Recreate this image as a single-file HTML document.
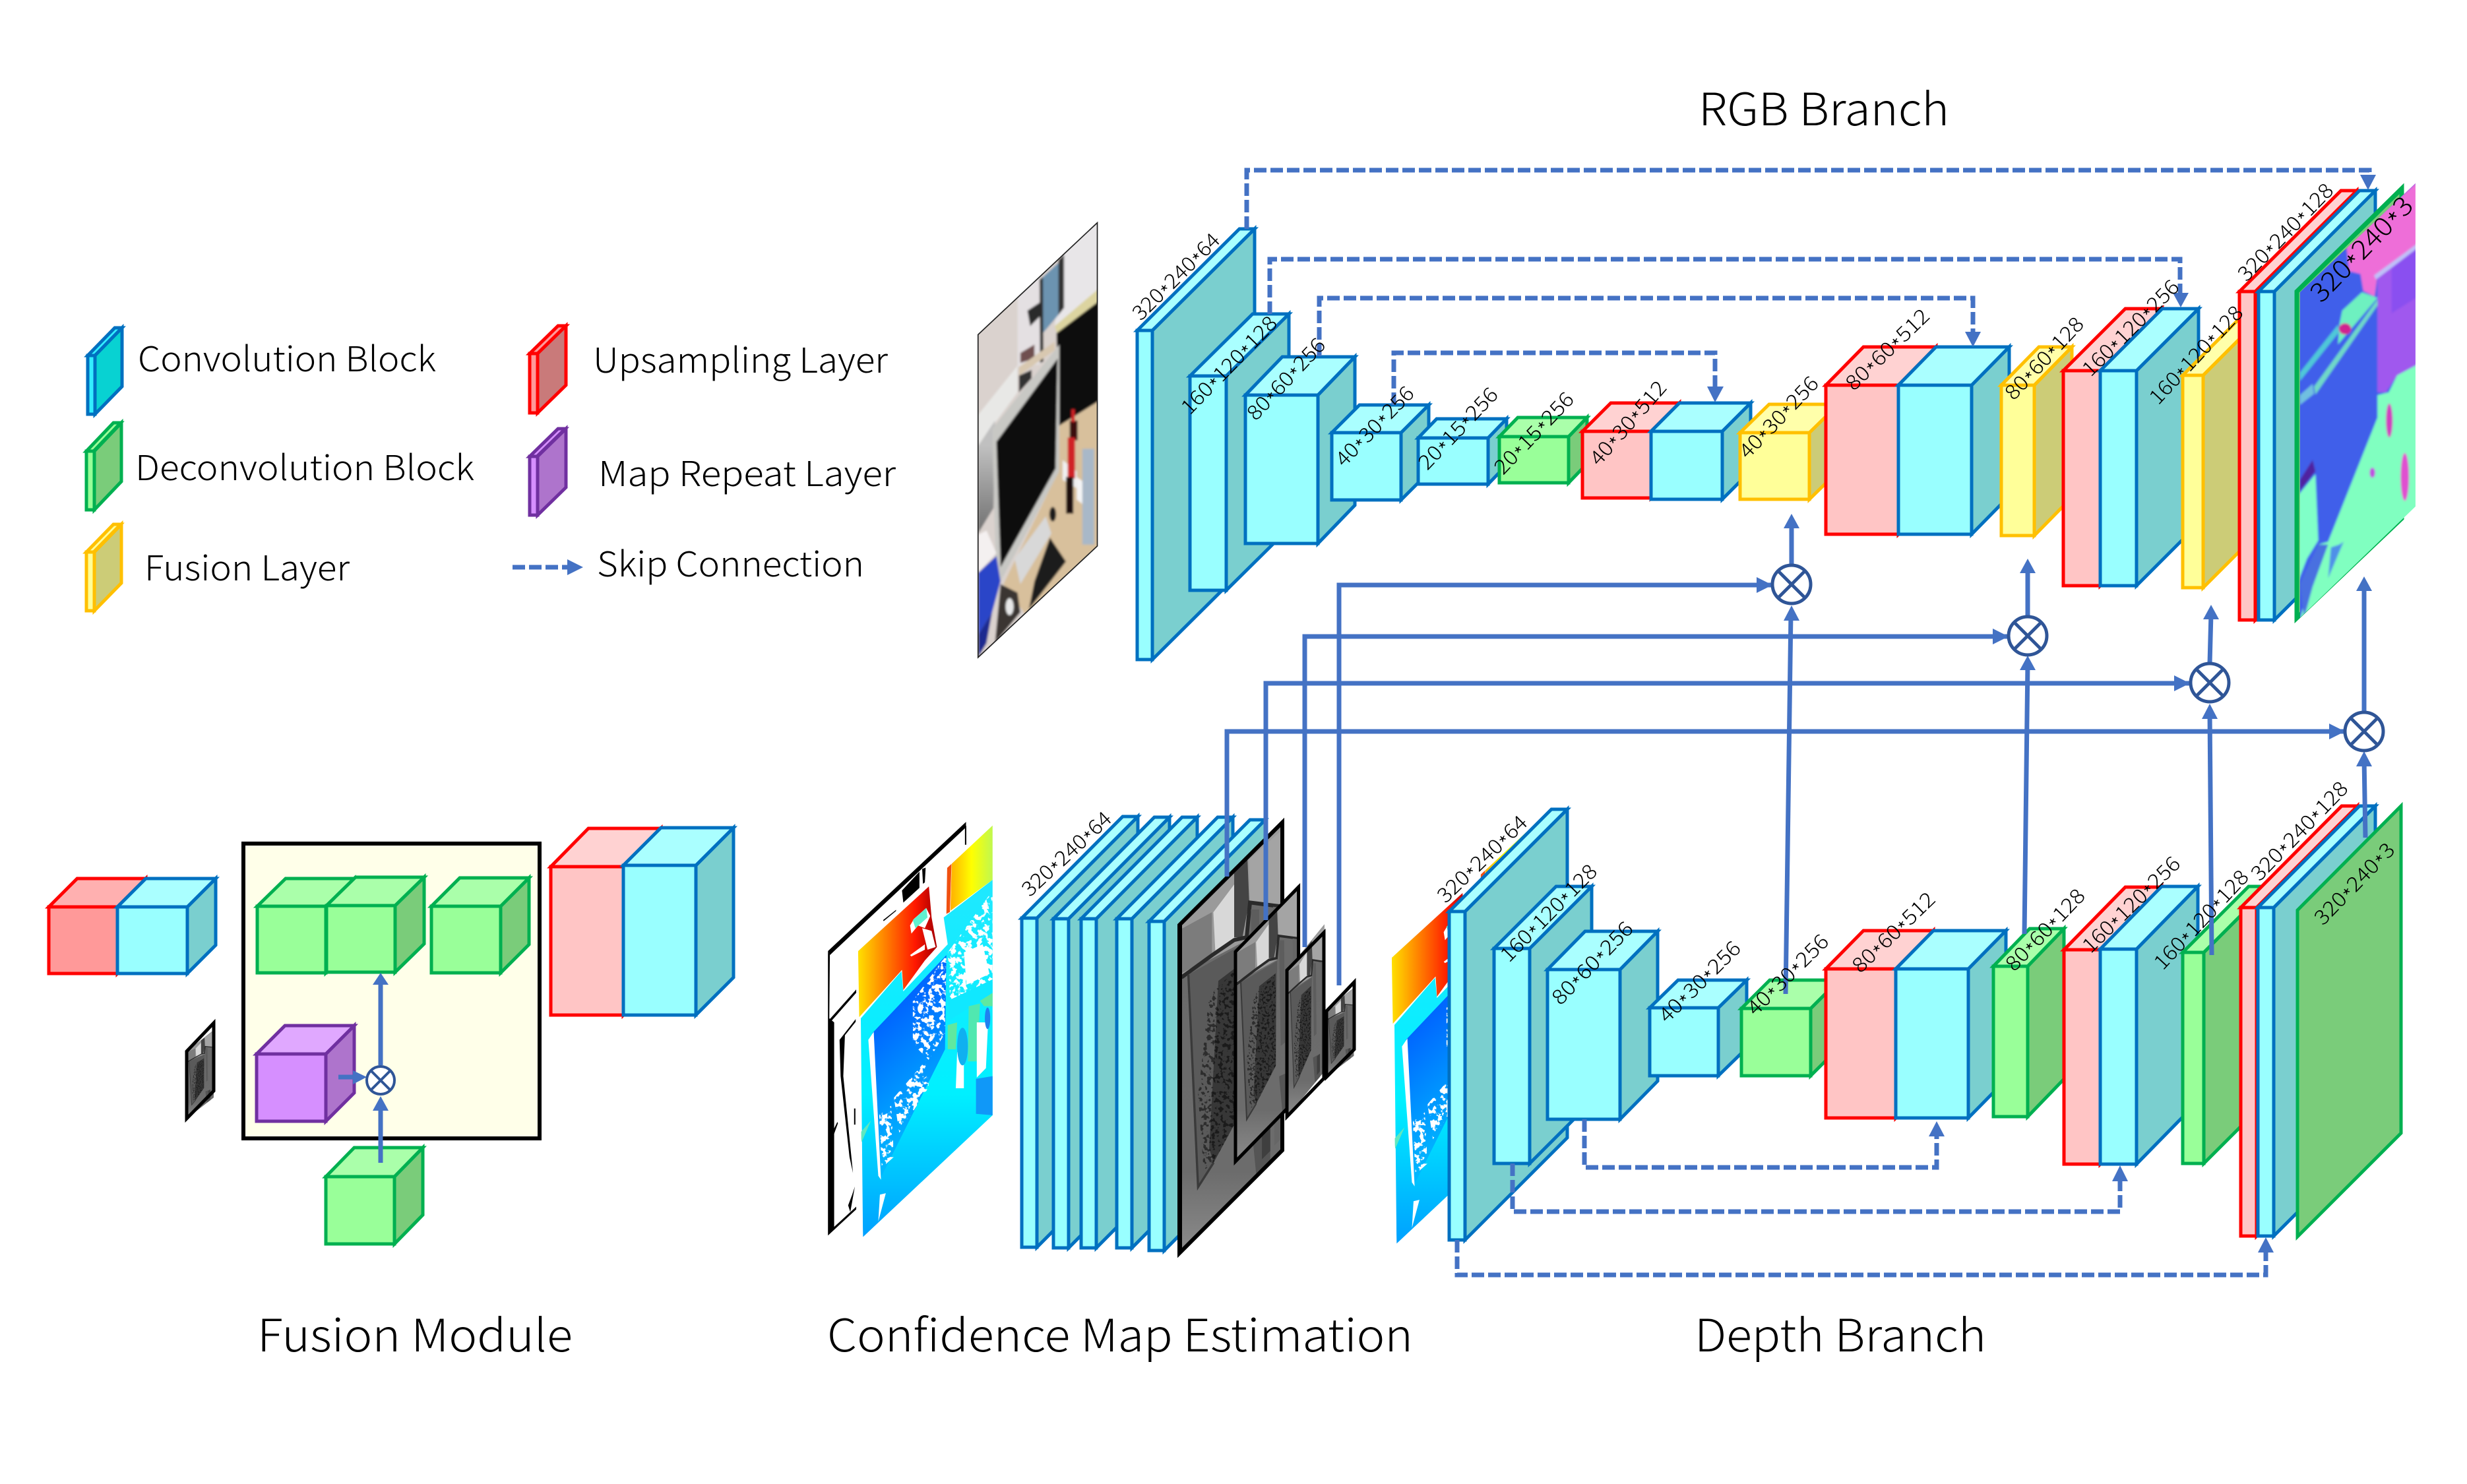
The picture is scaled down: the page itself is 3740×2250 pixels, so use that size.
<!DOCTYPE html>
<html><head><meta charset="utf-8"><style>
html,body{margin:0;padding:0;background:#fff}
svg{display:block}
text{font-family:"Noto Sans CJK SC","Liberation Sans",sans-serif;font-weight:300;fill:#000}
.l{font-size:31px;dominant-baseline:central}
.h{font-size:68px}
.k{font-size:52px}
g.bl,g.rd,g.ye,g.gr,g.pu,g.rs,g.lb,g.lr,g.lg,g.lp,g.ly{stroke-width:5;stroke-linejoin:miter}
.bl{stroke:#0070C0}.bl .t{fill:#AAFFFF}.bl .s{fill:#7ACFCF}.bl .f{fill:#99FFFF}
.rd{stroke:#FF0000}.rd .t{fill:#FFD2D2}.rd .s{fill:#FFC5C5}.rd .f{fill:#FFC5C5}
.rs{stroke:#FF0000}.rs .t{fill:#FFB0B0}.rs .s{fill:#FF9999}.rs .f{fill:#FF9999}
.ye{stroke:#FFC000}.ye .t{fill:#FFFFAA}.ye .s{fill:#CCCC77}.ye .f{fill:#FFFF99}
.gr{stroke:#00B050}.gr .t{fill:#AAFFAA}.gr .s{fill:#7ACC7A}.gr .f{fill:#99FF99}
.pu{stroke:#7030A0}.pu .t{fill:#E0A8FF}.pu .s{fill:#AE74CC}.pu .f{fill:#D68FFF}
.lb{stroke:#0070C0}.lb .t,.lb .f{fill:#33EEFF}.lb .s{fill:#08D2D2}
.lr{stroke:#FF0000}.lr .t,.lr .f{fill:#FF9999}.lr .s{fill:#C97A7A}
.lg{stroke:#00B050}.lg .t,.lg .f{fill:#99FF99}.lg .s{fill:#7ACC7A}
.lp{stroke:#7030A0}.lp .t,.lp .f{fill:#D68FFF}.lp .s{fill:#AE74CC}
.ly{stroke:#FFC000}.ly .t,.ly .f{fill:#FFFF99}.ly .s{fill:#CCCC77}
.d{fill:none;stroke:#4472C4;stroke-width:7;stroke-dasharray:19 6}
.w{fill:none;stroke:#4472C4;stroke-width:7}
.a{fill:#4472C4}
.o{fill:#fff;stroke:#2F5597;stroke-width:5}
.x{stroke:#2F5597;stroke-width:5;fill:none}
</style></head><body>
<svg xmlns="http://www.w3.org/2000/svg" width="3740" height="2250" viewBox="0 0 3740 2250">
<defs>
<filter id="b3" x="-5%" y="-5%" width="110%" height="110%"><feGaussianBlur stdDeviation="4"/></filter>
<filter id="sp" x="0" y="0" width="1" height="1"><feTurbulence type="fractalNoise" baseFrequency=".05" numOctaves="3" seed="4"/><feColorMatrix type="matrix" values="0 0 0 0 1  0 0 0 0 1  0 0 0 0 1  0 0 0 14 -7"/></filter>
<filter id="spd" x="0" y="0" width="1" height="1"><feTurbulence type="fractalNoise" baseFrequency=".07" numOctaves="2" seed="9"/><feColorMatrix type="matrix" values="0 0 0 0 0  0 0 0 0 0  0 0 0 0 0  0 0 0 14 -7.4"/></filter>
<clipPath id="cpPhoto"><polygon points="100,415 523,18 523,1165 100,1560"/></clipPath>
<clipPath id="cpNorm"><polygon points="975,405 1385,18 1385,1165 975,1560"/></clipPath>
<clipPath id="cpDep"><polygon points="137,495 637,28 637,1105 155,1558"/></clipPath>
<clipPath id="cpS1"><polygon points="340,680 465,510 460,800 400,900 340,840"/></clipPath>
<clipPath id="cpS2"><polygon points="270,1040 390,900 400,1000 290,1170"/></clipPath>
<clipPath id="cpS3"><polygon points="470,500 637,270 637,610 480,700"/></clipPath>
<clipPath id="cpS4"><polygon points="215,1100 260,1070 270,1260 225,1300"/></clipPath>
<clipPath id="cpG"><polygon points="40,390 415,18 415,1200 40,1568"/></clipPath>
<clipPath id="cpGd"><polygon points="150,640 281,513 281,1029 166,1242 130,1270 110,1000"/></clipPath>
<linearGradient id="gRed" x1="137" x2="420" y1="0" y2="0" gradientUnits="userSpaceOnUse"><stop offset="0" stop-color="#FFE000"/><stop offset=".3" stop-color="#FF9000"/><stop offset=".75" stop-color="#FF1800"/><stop offset="1" stop-color="#B00000"/></linearGradient>
<linearGradient id="gYel" x1="480" x2="637" y1="0" y2="0" gradientUnits="userSpaceOnUse"><stop offset="0" stop-color="#FFB000"/><stop offset=".5" stop-color="#FFFF00"/><stop offset="1" stop-color="#C0F850"/></linearGradient>
<linearGradient id="gCy" x1="0" x2="0" y1="230" y2="1558" gradientUnits="userSpaceOnUse"><stop offset="0" stop-color="#20E8FF"/><stop offset=".6" stop-color="#00F0FF"/><stop offset="1" stop-color="#00A0FF"/></linearGradient>
<linearGradient id="gMon" x1="190" x2="460" y1="800" y2="1100" gradientUnits="userSpaceOnUse"><stop offset="0" stop-color="#0068FF"/><stop offset="1" stop-color="#00B8FF"/></linearGradient>
<linearGradient id="gGray" x1="0" x2="0" y1="400" y2="1568" gradientUnits="userSpaceOnUse"><stop offset="0" stop-color="#6A6A6A"/><stop offset=".75" stop-color="#6C6C6C"/><stop offset="1" stop-color="#8C8C8C"/></linearGradient>
<linearGradient id="gWall" x1="0" x2="0" y1="810" y2="1120" gradientUnits="userSpaceOnUse"><stop offset="0" stop-color="#C0C0C0"/><stop offset="1" stop-color="#707070"/></linearGradient>
<g id="depth" transform="translate(1245,1240) scale(.408)">
 <g clip-path="url(#cpDep)">
  <rect x="130" y="20" width="510" height="1540" fill="#fff"/>
  <polygon points="485,170 637,28 637,230 480,345" fill="url(#gYel)"/>
  <polygon points="468,182 484,170 478,350 465,357" fill="#F05010"/>
  <polygon points="137,495 400,255 410,370 430,480 385,530 305,640 300,565 137,745" fill="url(#gRed)"/>
  <polygon points="345,375 390,335 405,365 385,410 360,400 335,430 330,400" fill="#fff"/>
  <polygon points="340,380 390,335 395,370 350,410" fill="#60F0D0"/>
  <polygon points="375,410 410,420 425,480 395,490" fill="#fff"/>
  <polygon points="330,510 385,470 385,490 335,515" fill="#fff"/>
  <polygon points="147,745 298,570 305,645 470,470 455,370 637,230 637,1105 155,1558" fill="url(#gCy)"/>
  <polygon points="190,800 465,510 460,860 220,1340" fill="url(#gMon)"/>
  <polygon points="175,825 195,795 222,1345 212,1330" fill="#fff"/>
  <g clip-path="url(#cpS1)"><rect x="330" y="500" width="140" height="410" filter="url(#sp)"/></g>
  <g clip-path="url(#cpS2)"><rect x="265" y="895" width="140" height="280" filter="url(#sp)"/></g>
  <g clip-path="url(#cpS3)"><rect x="465" y="265" width="175" height="440" filter="url(#sp)"/></g>
  <g clip-path="url(#cpS4)"><rect x="210" y="1065" width="65" height="240" filter="url(#sp)"/></g>
  <polygon points="530,500 600,470 625,580 540,620" fill="#fff"/>
  <polygon points="470,680 637,600 637,650 480,750" fill="#10E8FF"/>
  <polygon points="470,770 505,760 500,860 470,860" fill="#60E8A0"/>
  <polygon points="548,700 590,690 578,905 545,905" fill="#50E8B0"/>
  <polygon points="590,680 637,650 637,700 605,700" fill="#60E8A0"/>
  <polygon points="505,870 530,905 530,1005 500,1005" fill="#fff"/>
  <ellipse cx="525" cy="850" rx="20" ry="70" fill="#10B0F0"/>
  <polygon points="578,760 620,760 612,930 578,965" fill="#fff"/>
  <ellipse cx="618" cy="745" rx="10" ry="40" fill="#2080F0"/>
  <polygon points="575,970 637,960 637,1105 575,1100" fill="#1098F8"/>
  <polygon points="145,1170 185,1125 150,1205" fill="#60E8C0"/>
  <polygon points="218,1400 240,1395 212,1500" fill="#fff"/>
 </g>
</g>
<g id="gray">
 <g clip-path="url(#cpG)">
 <rect x="30" y="10" width="395" height="1570" fill="url(#gGray)"/>
 <polygon points="40,390 415,18 415,310 297,308 289,439 70,554 40,570" fill="#9A9A9A"/>
 <polygon points="50,400 160,340 160,500 50,560" fill="#7C7C7C"/>
 <polygon points="165,340 240,240 240,440 172,480" fill="#D8D8D8"/>
 <polygon points="240,200 288,150 294,300 270,430 240,430" fill="#444"/>
 <polygon points="294,150 415,40 415,312 297,300" fill="#A4A4A4"/>
 <polyline points="50,575 160,495 240,440 285,430 297,305 415,320" fill="none" stroke="#2A2A2A" stroke-width="14"/>
 <polygon points="75,565 289,445 281,1030 166,1242 110,1330" fill="#5A5A5A"/>
 <polygon points="183,587 281,513 281,1029 166,1242 150,1190" fill="#373737"/>
 <polyline points="75,565 110,1330 166,1242" fill="none" stroke="#3A3A3A" stroke-width="8"/>
 <g clip-path="url(#cpGd)" opacity=".5"><rect x="100" y="500" width="190" height="780" filter="url(#spd)"/></g>
 <polygon points="300,1090 370,1060 370,1250 320,1290" fill="#555"/>
 <polygon points="340,1080 370,1060 370,1200 340,1230" fill="#3F3F3F"/>
 <polygon points="300,330 330,330 335,900 310,920" fill="#5D5D5D"/>
 <polygon points="380,320 415,325 415,1150 385,1180" fill="#666"/>
 </g>
</g>
</defs>

<!-- legend -->
<g class="lb"><path class="t" d="M133 539l41-42h11l-41 42z"/><path class="s" d="M144 539l41-42v89l-41 42z"/><rect class="f" x="133" y="539" width="11" height="89"/></g>
<g class="lr"><path class="t" d="M803 536l43-42h12l-43 42z"/><path class="s" d="M815 536l43-42v90l-43 42z"/><rect class="f" x="803" y="536" width="12" height="90"/></g>
<g class="lg"><path class="t" d="M131 684l41-43h11l-41 43z"/><path class="s" d="M143 684l41-43v89l-41 43z"/><rect class="f" x="131" y="684" width="12" height="89"/></g>
<g class="lp"><path class="t" d="M803 692l43-42h11l-43 42z"/><path class="s" d="M815 692l43-42v89l-43 42z"/><rect class="f" x="803" y="692" width="12" height="89"/></g>
<g class="ly"><path class="t" d="M131 837l41-42h11l-41 42z"/><path class="s" d="M143 837l41-42v89l-41 42z"/><rect class="f" x="131" y="837" width="12" height="89"/></g>
<text class="k" x="209" y="563" textLength="452" lengthAdjust="spacingAndGlyphs">Convolution Block</text>
<text class="k" x="899" y="565" textLength="447" lengthAdjust="spacingAndGlyphs">Upsampling Layer</text>
<text class="k" x="205" y="728" textLength="514" lengthAdjust="spacingAndGlyphs">Deconvolution Block</text>
<text class="k" x="907" y="737" textLength="451" lengthAdjust="spacingAndGlyphs">Map Repeat Layer</text>
<text class="k" x="219" y="880" textLength="311" lengthAdjust="spacingAndGlyphs">Fusion Layer</text>
<text class="k" x="905" y="874" textLength="405" lengthAdjust="spacingAndGlyphs">Skip Connection</text>
<path class="d" d="M777 860H860"/>
<polygon class="a" points="860,848 884,860 860,872"/>

<!-- titles -->
<text class="h" x="2575" y="190" textLength="380" lengthAdjust="spacingAndGlyphs">RGB Branch</text>
<text class="h" x="390" y="2049" textLength="478" lengthAdjust="spacingAndGlyphs">Fusion Module</text>
<text class="h" x="1254" y="2049" textLength="888" lengthAdjust="spacingAndGlyphs">Confidence Map Estimation</text>
<text class="h" x="2569" y="2049" textLength="442" lengthAdjust="spacingAndGlyphs">Depth Branch</text>

<!-- RGB photo -->
<g transform="translate(1440,330) scale(.4274)">
<g clip-path="url(#cpPhoto)"><g filter="url(#b3)">
 <rect x="90" y="10" width="440" height="1560" fill="#DAD2CE"/>
 <polygon points="240,200 320,130 320,520 240,530" fill="#E4E0E2"/>
 <polygon points="400,100 530,10 530,260 372,385" fill="#E8E6E8"/>
 <polygon points="325,215 385,160 385,345 330,410" fill="#6C93B0"/>
 <polygon points="318,220 330,210 332,510 320,515" fill="#2A2A2A"/>
 <polygon points="385,150 405,130 405,320 385,345" fill="#333"/>
 <polygon points="275,330 320,300 320,350 285,385" fill="#2A2A2A"/>
 <polygon points="250,480 300,450 300,500 250,515" fill="#705050"/>
 <polygon points="245,530 372,440 372,470 245,560" fill="#D8C8B0"/>
 <polygon points="245,560 290,540 290,570 245,620" fill="#333"/>
 <polygon points="372,385 530,250 530,300 380,410" fill="#DCD4A0"/>
 <polygon points="378,410 530,295 530,650 385,740" fill="#0C0C0C"/>
 <polygon points="385,740 530,650 530,1170 270,1410 190,1300 385,900" fill="#D8C09C"/>
 <polygon points="100,700 240,525 240,620 100,810" fill="#E8E8E6"/>
 <polygon points="100,810 160,720 155,1030 100,1120" fill="url(#gWall)"/>
 <polygon points="150,750 388,450 388,900 180,1290 165,1300" fill="#C8C8C4"/>
 <polygon points="165,795 382,500 375,890 180,1240" fill="#0E0E0E"/>
 <polygon points="100,1125 130,1110 165,1190 100,1260" fill="#F4F0F0"/>
 <polygon points="100,1260 165,1200 180,1290 150,1400 100,1480" fill="#2A45C8"/>
 <polygon points="230,1210 340,1060 360,1120 250,1300" fill="#D8D8D8"/>
 <polygon points="355,1135 412,1220 280,1390 300,1290" fill="#1C1C1C"/>
 <polygon points="180,1300 240,1330 250,1400 160,1510" fill="#3A3530"/>
 <ellipse cx="212" cy="1380" rx="14" ry="30" fill="#E8E8E8"/>
 <polygon points="100,1480 150,1400 130,1510 100,1560" fill="#1A2A90"/>
 <polygon points="400,860 450,900 450,960 400,930" fill="#F0F0F0"/>
 <polygon points="450,920 505,960 500,1040 450,1000" fill="#F4F4F4"/>
 <ellipse cx="365" cy="1052" rx="12" ry="26" fill="#1a1a1a"/>
 <rect x="425" y="720" width="28" height="70" fill="#3A1010"/>
 <rect x="418" y="780" width="26" height="145" fill="#D02028"/>
 <rect x="431" y="680" width="12" height="45" fill="#D02028"/>
 <rect x="412" y="920" width="26" height="130" fill="#1A1010"/>
 <rect x="470" y="820" width="42" height="340" fill="#A8B8C8"/>
</g></g>
<polygon points="100,415 523,18 523,1165 100,1560" fill="none" stroke="#222" stroke-width="4"/>
</g>

<!-- RGB branch blocks -->
<g class="bl"><path class="s" d="M1747 501l155-154v499l-155 154z"/><path class="t" d="M1724 501l155-154h23l-155 154z"/><rect class="f" x="1724" y="501" width="23" height="499"/></g>
<g class="bl"><path class="s" d="M1859 570l95-94v325l-95 94z"/><path class="t" d="M1804 570l95-94h55l-95 94z"/><rect class="f" x="1804" y="570" width="55" height="325"/></g>
<g class="bl"><path class="s" d="M1998 599l56-58v225l-56 58z"/><path class="t" d="M1888 599l56-58h110l-56 58z"/><rect class="f" x="1888" y="599" width="110" height="225"/></g>
<g class="bl"><path class="s" d="M2124 656l42-42v102l-42 42z"/><path class="t" d="M2019 656l42-42h105l-42 42z"/><rect class="f" x="2019" y="656" width="105" height="102"/></g>
<g class="bl"><path class="s" d="M2256 664l28-29v70l-28 29z"/><path class="t" d="M2150 664l28-29h106l-28 29z"/><rect class="f" x="2150" y="664" width="106" height="70"/></g>
<g class="gr"><path class="s" d="M2378 662l28-29v70l-28 29z"/><path class="t" d="M2273 662l28-29h105l-28 29z"/><rect class="f" x="2273" y="662" width="105" height="70"/></g>
<g class="rd"><path class="s" d="M2503 654l43-43v101l-43 43z"/><path class="t" d="M2399 654l43-43h104l-43 43z"/><rect class="f" x="2399" y="654" width="104" height="101"/></g>
<g class="bl"><path class="s" d="M2611 654l43-43v103l-43 43z"/><path class="t" d="M2503 654l43-43h108l-43 43z"/><rect class="f" x="2503" y="654" width="108" height="103"/></g>
<g class="ye"><path class="s" d="M2743 656l44-43v101l-44 43z"/><path class="t" d="M2638 656l44-43h105l-44 43z"/><rect class="f" x="2638" y="656" width="105" height="101"/></g>
<g class="rd"><path class="s" d="M2878 584l57-58v226l-57 58z"/><path class="t" d="M2768 584l57-58h110l-57 58z"/><rect class="f" x="2768" y="584" width="110" height="226"/></g>
<g class="bl"><path class="s" d="M2989 584l57-58v226l-57 58z"/><path class="t" d="M2878 584l57-58h111l-57 58z"/><rect class="f" x="2878" y="584" width="111" height="226"/></g>
<g class="ye"><path class="s" d="M3084 584l57-58v228l-57 58z"/><path class="t" d="M3034 584l57-58h50l-57 58z"/><rect class="f" x="3034" y="584" width="50" height="228"/></g>
<g class="rd"><path class="s" d="M3184 562l94-94v326l-94 94z"/><path class="t" d="M3128 562l94-94h56l-94 94z"/><rect class="f" x="3128" y="562" width="56" height="326"/></g>
<g class="bl"><path class="s" d="M3239 562l94-94v326l-94 94z"/><path class="t" d="M3184 562l94-94h55l-94 94z"/><rect class="f" x="3184" y="562" width="55" height="326"/></g>
<g class="ye"><path class="s" d="M3340 569l94-94v322l-94 94z"/><path class="t" d="M3309 569l94-94h31l-94 94z"/><rect class="f" x="3309" y="569" width="31" height="322"/></g>
<g class="rd"><path class="s" d="M3419 442l154-153v498l-154 153z"/><path class="t" d="M3395 442l154-153h24l-154 153z"/><rect class="f" x="3395" y="442" width="24" height="498"/></g>
<g class="bl"><path class="s" d="M3448 442l153-153v498l-153 153z"/><path class="t" d="M3424 442l153-153h24l-153 153z"/><rect class="f" x="3424" y="442" width="24" height="498"/></g>
<g class="gr" style="stroke-width:7"><polygon class="s" points="3482,442 3641,286 3641,786 3482,937"/></g>
<!-- normal map -->
<g transform="translate(3070,270) scale(.4274)">
<g clip-path="url(#cpNorm)"><g filter="url(#b3)">
 <rect x="965" y="10" width="430" height="1560" fill="#3F5FEA"/>
 <polygon points="1140,240 1395,10 1395,235 1250,345 1240,420 1200,400 1190,340 1150,330" fill="#EE6ED8"/>
 <polygon points="1250,355 1395,240 1395,660 1320,700 1280,760 1250,760" fill="#A058EE"/>
 <polygon points="1300,320 1395,245 1395,420 1300,480" fill="#8A50F0"/>
 <polygon points="1238,345 1395,230 1395,246 1245,360" fill="#C0C0F8"/>
 <polygon points="1125,470 1195,405 1250,425 1110,590 1115,520" fill="#6EF0C0"/>
 <polygon points="975,690 1110,520 1115,545 975,720" fill="#50C8D8"/>
 <polygon points="1025,740 1250,430 1250,452 1030,768" fill="#6FD8C8"/>
 <polygon points="975,770 1020,730 1025,765 975,805" fill="#70C0E0"/>
 <polygon points="1395,660 1395,1170 975,1570 1040,1300 1075,1290 1250,850 1250,770 1290,760 1320,700" fill="#80FFC0"/>
 <polygon points="965,1130 1030,1050 1040,1285 1000,1350 965,1440" fill="#80FFC8"/>
 <polygon points="975,1440 1040,1300 1075,1300 1020,1450 990,1560" fill="#4A70E0"/>
 <polygon points="1085,1310 1115,1300 1130,1290 1075,1420" fill="#5090E8"/>
 <polygon points="975,1070 1020,1000 1030,1040 975,1110" fill="#5020A0"/>
 <ellipse cx="1347" cy="1060" rx="15" ry="85" fill="#E050D0"/>
 <ellipse cx="1232" cy="1045" rx="10" ry="18" fill="#C050E0"/>
 <ellipse cx="1292" cy="860" rx="12" ry="60" fill="#D040C0"/>
 <ellipse cx="1135" cy="535" rx="22" ry="20" fill="#D02090"/>
</g></g>
</g>

<!-- dashed skips RGB -->
<path class="d" d="M1890 347V258H3592V268"/><polygon class="a" points="3578,265 3602,265 3590,288"/>
<path class="d" d="M1925 476V393H3305V444"/><polygon class="a" points="3294,444 3318,444 3306,466"/>
<path class="d" d="M2000 540V452H2991V503"/><polygon class="a" points="2979,503 3003,503 2991,526"/>
<path class="d" d="M2113 614V535H2600V586"/><polygon class="a" points="2588,586 2613,586 2600,610"/>

<!-- confidence map -->
<g transform="translate(1245,1240) scale(.408)">
<polygon points="25,495 538,18 538,1000 25,1550" fill="#fff"/>
<polygon points="25,495 538,15 538,35 32,510" fill="#000"/>
<rect x="534" y="30" width="5" height="70" fill="#000"/>
<polygon points="25,495 32,510 30,745 48,760 48,1520 130,1445 130,1455 25,1552" fill="#000"/>
<polygon points="300,270 365,200 365,260 305,315" fill="#000"/>
<polygon points="375,190 388,185 385,240 378,245" fill="#000"/>
<polygon points="30,750 130,638 130,650 35,758" fill="#000"/>
<polygon points="68,825 128,748 128,758 88,808 82,960 118,1320 105,1260 72,960" fill="#000"/>
<polygon points="230,380 278,342 278,346 232,384" fill="#000"/>
<polygon points="115,1400 125,1370 108,1465 100,1440" fill="#000"/>
<polygon points="40,1170 60,1130 62,1135 44,1185" fill="#000"/>
<rect x="122" y="1080" width="5" height="60" fill="#000"/>
</g>
<use href="#depth"/>

<!-- slabs -->
<g class="bl"><path class="s" d="M1572 1392l153-154v499l-153 154z"/><path class="t" d="M1549 1392l153-154h23l-153 154z"/><rect class="f" x="1549" y="1392" width="23" height="499"/></g>
<g class="bl"><path class="s" d="M1620 1393l153-154v499l-153 154z"/><path class="t" d="M1597 1393l153-154h23l-153 154z"/><rect class="f" x="1597" y="1393" width="23" height="499"/></g>
<g class="bl"><path class="s" d="M1662 1393l153-154v499l-153 154z"/><path class="t" d="M1639 1393l153-154h23l-153 154z"/><rect class="f" x="1639" y="1393" width="23" height="499"/></g>
<g class="bl"><path class="s" d="M1716 1393l153-154v499l-153 154z"/><path class="t" d="M1693 1393l153-154h23l-153 154z"/><rect class="f" x="1693" y="1393" width="23" height="499"/></g>
<g class="bl"><path class="s" d="M1765 1397l153-154v499l-153 154z"/><path class="t" d="M1742 1397l153-154h23l-153 154z"/><rect class="f" x="1742" y="1397" width="23" height="499"/></g>

<!-- gray feature maps -->
<g transform="translate(1770,1240) scale(.4209)"><use href="#gray"/></g>
<polygon points="1788,1402.5 1944,1247 1944,1744 1788,1900" fill="none" stroke="#000" stroke-width="6"/>
<rect x="1785" y="1402" width="7" height="498" fill="#000"/>
<g transform="translate(1861.7,1336) scale(.2579,.2716)"><use href="#gray"/></g>
<polygon points="1873,1443 1968.6,1345 1968.6,1663 1873,1761" fill="none" stroke="#000" stroke-width="5"/>
<g transform="translate(1945,1398) scale(.1515,.1885)"><use href="#gray"/></g>
<polygon points="1951,1471 2007,1414 2007,1635 1951,1693" fill="none" stroke="#000" stroke-width="5"/>
<g transform="translate(2006,1496) scale(.112,.0874)"><use href="#gray"/></g>
<polygon points="2011,1533 2053,1489 2053,1591 2011,1633" fill="none" stroke="#000" stroke-width="5"/>
<g transform="translate(278.6,1560.2) scale(.1093,.0866)"><use href="#gray"/></g>
<polygon points="283,1594 324,1551 324,1654 283,1696" fill="none" stroke="#000" stroke-width="5"/>

<!-- depth branch blocks -->
<use href="#depth" transform="translate(809,10)"/>
<g class="bl"><path class="s" d="M2221 1382l155-155v498l-155 155z"/><path class="t" d="M2197 1382l155-155h24l-155 155z"/><rect class="f" x="2197" y="1382" width="24" height="498"/></g>
<g class="bl"><path class="s" d="M2319 1438l94-94v326l-94 94z"/><path class="t" d="M2265 1438l94-94h54l-94 94z"/><rect class="f" x="2265" y="1438" width="54" height="326"/></g>
<g class="bl"><path class="s" d="M2456 1470l57-58v227l-57 58z"/><path class="t" d="M2346 1470l57-58h110l-57 58z"/><rect class="f" x="2346" y="1470" width="110" height="227"/></g>
<g class="bl"><path class="s" d="M2605 1528l43-42v103l-43 42z"/><path class="t" d="M2501 1528l43-42h104l-43 42z"/><rect class="f" x="2501" y="1528" width="104" height="103"/></g>
<g class="gr"><path class="s" d="M2745 1529l43-43v102l-43 43z"/><path class="t" d="M2640 1529l43-43h105l-43 43z"/><rect class="f" x="2640" y="1529" width="105" height="102"/></g>
<g class="rd"><path class="s" d="M2874 1469l57-58v226l-57 58z"/><path class="t" d="M2768 1469l57-58h106l-57 58z"/><rect class="f" x="2768" y="1469" width="106" height="226"/></g>
<g class="bl"><path class="s" d="M2984 1469l57-58v226l-57 58z"/><path class="t" d="M2874 1469l57-58h110l-57 58z"/><rect class="f" x="2874" y="1469" width="110" height="226"/></g>
<g class="gr"><path class="s" d="M3074 1465l55-57v228l-55 57z"/><path class="t" d="M3022 1465l55-57h52l-55 57z"/><rect class="f" x="3022" y="1465" width="52" height="228"/></g>
<g class="rd"><path class="s" d="M3184 1440l93-95v325l-93 95z"/><path class="t" d="M3129 1440l93-95h55l-93 95z"/><rect class="f" x="3129" y="1440" width="55" height="325"/></g>
<g class="bl"><path class="s" d="M3239 1439l93-95v326l-93 95z"/><path class="t" d="M3184 1439l93-95h55l-93 95z"/><rect class="f" x="3184" y="1439" width="55" height="326"/></g>
<g class="gr"><path class="s" d="M3341 1444l100-100v320l-100 100z"/><path class="t" d="M3309 1444l100-100h32l-100 100z"/><rect class="f" x="3309" y="1444" width="32" height="320"/></g>
<g class="rd"><path class="s" d="M3421 1376l153-154v498l-153 154z"/><path class="t" d="M3397 1376l153-154h24l-153 154z"/><rect class="f" x="3397" y="1376" width="24" height="498"/></g>
<g class="bl"><path class="s" d="M3447 1376l154-154v498l-154 154z"/><path class="t" d="M3423 1376l154-154h24l-154 154z"/><rect class="f" x="3423" y="1376" width="24" height="498"/></g>
<g class="gr"><polygon class="s" points="3483,1380 3640,1222 3640,1718 3483,1875"/></g>

<!-- dashed skips depth -->
<path class="d" d="M2402 1697V1770H2936V1723"/><polygon class="a" points="2924,1723 2948,1723 2936,1700"/>
<path class="d" d="M2293 1764V1837H3214V1791"/><polygon class="a" points="3202,1791 3226,1791 3214,1767"/>
<path class="d" d="M2209 1880V1933H3435V1899"/><polygon class="a" points="3423,1899 3447,1899 3435,1876"/>

<!-- solid connectors -->
<path class="w" d="M1860 1329V1109H3555"/><polygon class="a" points="3531,1097 3555,1109 3531,1121"/>
<path class="w" d="M1919 1395V1036H3320"/><polygon class="a" points="3296,1024 3320,1036 3296,1048"/>
<path class="w" d="M1978 1436V965H3045"/><polygon class="a" points="3021,953 3045,965 3021,977"/>
<path class="w" d="M2030 1494V887H2687"/><polygon class="a" points="2663,875 2687,887 2663,899"/>
<path class="w" d="M2707 1507L2715 930"/><polygon class="a" points="2704,941 2728,941 2716,918"/>
<path class="w" d="M3069 1416L3074 1005"/><polygon class="a" points="3062,1016 3086,1016 3074,994"/>
<path class="w" d="M3353 1448L3350 1080"/><polygon class="a" points="3338,1090 3362,1090 3350,1067"/>
<path class="w" d="M3586 1270L3584 1150"/><polygon class="a" points="3572,1162 3596,1162 3584,1139"/>
<path class="w" d="M2716 857V795"/><polygon class="a" points="2704,801 2728,801 2716,779"/>
<path class="w" d="M3074 935V860"/><polygon class="a" points="3062,869 3086,869 3074,847"/>
<path class="w" d="M3350 1006L3352 930"/><polygon class="a" points="3340,939 3364,939 3352,917"/>
<path class="w" d="M3584 1080V890"/><polygon class="a" points="3572,896 3596,896 3584,874"/>
<circle class="o" cx="2716" cy="886" r="29"/><path class="x" d="M2696 866L2736 906M2736 866L2696 906"/>
<circle class="o" cx="3074" cy="964" r="29"/><path class="x" d="M3054 944L3094 984M3094 944L3054 984"/>
<circle class="o" cx="3350" cy="1035" r="29"/><path class="x" d="M3330 1015L3370 1055M3370 1015L3330 1055"/>
<circle class="o" cx="3584" cy="1109" r="29"/><path class="x" d="M3564 1089L3604 1129M3604 1089L3564 1129"/>

<!-- fusion module -->
<g class="rs"><path class="s" d="M178 1375l43-43v101l-43 43z"/><path class="t" d="M74 1375l43-43h104l-43 43z"/><rect class="f" x="74" y="1375" width="104" height="101"/></g>
<g class="bl"><path class="s" d="M284 1375l43-43v101l-43 43z"/><path class="t" d="M178 1375l43-43h106l-43 43z"/><rect class="f" x="178" y="1375" width="106" height="101"/></g>
<rect x="369" y="1279" width="449" height="447" fill="#FFFFE9" stroke="#000" stroke-width="6"/>
<g class="gr"><path class="s" d="M494 1374l43-42v101l-43 42z"/><path class="t" d="M390 1374l43-42h104l-43 42z"/><rect class="f" x="390" y="1374" width="104" height="101"/></g>
<g class="gr"><path class="s" d="M599 1373l44-43v101l-44 43z"/><path class="t" d="M495 1373l44-43h104l-44 43z"/><rect class="f" x="495" y="1373" width="104" height="101"/></g>
<g class="gr"><path class="s" d="M759 1374l43-43v101l-43 43z"/><path class="t" d="M654 1374l43-43h105l-43 43z"/><rect class="f" x="654" y="1374" width="105" height="101"/></g>
<g class="pu"><path class="s" d="M494 1598l43-43v102l-43 43z"/><path class="t" d="M389 1598l43-43h105l-43 43z"/><rect class="f" x="389" y="1598" width="105" height="102"/></g>
<g class="gr"><path class="s" d="M598 1784l43-44v102l-43 44z"/><path class="t" d="M494 1784l43-44h104l-43 44z"/><rect class="f" x="494" y="1784" width="104" height="102"/></g>
<path class="w" d="M513 1633H540"/><polygon class="a" points="535,1623 556,1633 535,1644"/>
<path class="w" d="M577 1615V1490"/><polygon class="a" points="565,1493 589,1493 577,1475"/>
<path class="w" d="M577 1763V1680"/><polygon class="a" points="565,1684 589,1684 577,1662"/>
<circle class="o" cx="577" cy="1638" r="21" style="stroke-width:4"/><path class="x" style="stroke-width:4" d="M563 1624L591 1652M591 1624L563 1652"/>
<g class="rd"><path class="s" d="M945 1314l57-58v225l-57 58z"/><path class="t" d="M835 1314l57-58h110l-57 58z"/><rect class="f" x="835" y="1314" width="110" height="225"/></g>
<g class="bl"><path class="s" d="M1055 1312l57-57v227l-57 57z"/><path class="t" d="M945 1312l57-57h110l-57 57z"/><rect class="f" x="945" y="1312" width="110" height="227"/></g>

<!-- labels -->
<g>
<text class="l" transform="translate(1720,478) rotate(-45)" textLength="172" lengthAdjust="spacingAndGlyphs">320<tspan dy="8">*</tspan><tspan dy="-8">240</tspan><tspan dy="8">*</tspan><tspan dy="-8">64</tspan></text>
<text class="l" transform="translate(1794,621) rotate(-46)" textLength="193" lengthAdjust="spacingAndGlyphs">160<tspan dy="8">*</tspan><tspan dy="-8">120</tspan><tspan dy="8">*</tspan><tspan dy="-8">128</tspan></text>
<text class="l" transform="translate(1894,630) rotate(-47)" textLength="157" lengthAdjust="spacingAndGlyphs">80<tspan dy="8">*</tspan><tspan dy="-8">60</tspan><tspan dy="8">*</tspan><tspan dy="-8">256</tspan></text>
<text class="l" transform="translate(2028,700) rotate(-46)" textLength="155" lengthAdjust="spacingAndGlyphs">40<tspan dy="8">*</tspan><tspan dy="-8">30</tspan><tspan dy="8">*</tspan><tspan dy="-8">256</tspan></text>
<text class="l" transform="translate(2154,705) rotate(-46.5)" textLength="158" lengthAdjust="spacingAndGlyphs">20<tspan dy="8">*</tspan><tspan dy="-8">15</tspan><tspan dy="8">*</tspan><tspan dy="-8">256</tspan></text>
<text class="l" transform="translate(2269,712) rotate(-46.5)" textLength="158" lengthAdjust="spacingAndGlyphs">20<tspan dy="8">*</tspan><tspan dy="-8">15</tspan><tspan dy="8">*</tspan><tspan dy="-8">256</tspan></text>
<text class="l" transform="translate(2414,699) rotate(-49)" textLength="158" lengthAdjust="spacingAndGlyphs">40<tspan dy="8">*</tspan><tspan dy="-8">30</tspan><tspan dy="8">*</tspan><tspan dy="-8">512</tspan></text>
<text class="l" transform="translate(2640,688) rotate(-46.5)" textLength="158" lengthAdjust="spacingAndGlyphs">40<tspan dy="8">*</tspan><tspan dy="-8">30</tspan><tspan dy="8">*</tspan><tspan dy="-8">256</tspan></text>
<text class="l" transform="translate(2801,584) rotate(-44)" textLength="162" lengthAdjust="spacingAndGlyphs">80<tspan dy="8">*</tspan><tspan dy="-8">60</tspan><tspan dy="8">*</tspan><tspan dy="-8">512</tspan></text>
<text class="l" transform="translate(3043,599) rotate(-47)" textLength="158" lengthAdjust="spacingAndGlyphs">80<tspan dy="8">*</tspan><tspan dy="-8">60</tspan><tspan dy="8">*</tspan><tspan dy="-8">128</tspan></text>
<text class="l" transform="translate(3160,563) rotate(-45)" textLength="192" lengthAdjust="spacingAndGlyphs">160<tspan dy="8">*</tspan><tspan dy="-8">120</tspan><tspan dy="8">*</tspan><tspan dy="-8">256</tspan></text>
<text class="l" transform="translate(3262,606) rotate(-47)" textLength="191" lengthAdjust="spacingAndGlyphs">160<tspan dy="8">*</tspan><tspan dy="-8">120</tspan><tspan dy="8">*</tspan><tspan dy="-8">128</tspan></text>
<text class="l" transform="translate(3396,419) rotate(-46)" textLength="192" lengthAdjust="spacingAndGlyphs">320<tspan dy="8">*</tspan><tspan dy="-8">240</tspan><tspan dy="8">*</tspan><tspan dy="-8">128</tspan></text>
<text class="l" style="font-size:40px" transform="translate(3507,449) rotate(-46)" textLength="204" lengthAdjust="spacingAndGlyphs">320<tspan dy="10">*</tspan><tspan dy="-10">240</tspan><tspan dy="10">*</tspan><tspan dy="-10">3</tspan></text>
<text class="l" transform="translate(1552,1351) rotate(-43)" textLength="172" lengthAdjust="spacingAndGlyphs">320<tspan dy="8">*</tspan><tspan dy="-8">240</tspan><tspan dy="8">*</tspan><tspan dy="-8">64</tspan></text>
<text class="l" transform="translate(2182,1361) rotate(-44)" textLength="175" lengthAdjust="spacingAndGlyphs">320<tspan dy="8">*</tspan><tspan dy="-8">240</tspan><tspan dy="8">*</tspan><tspan dy="-8">64</tspan></text>
<text class="l" transform="translate(2278,1451) rotate(-45.5)" textLength="193" lengthAdjust="spacingAndGlyphs">160<tspan dy="8">*</tspan><tspan dy="-8">120</tspan><tspan dy="8">*</tspan><tspan dy="-8">128</tspan></text>
<text class="l" transform="translate(2356,1516) rotate(-46)" textLength="161" lengthAdjust="spacingAndGlyphs">80<tspan dy="8">*</tspan><tspan dy="-8">60</tspan><tspan dy="8">*</tspan><tspan dy="-8">256</tspan></text>
<text class="l" transform="translate(2518,1543) rotate(-45)" textLength="160" lengthAdjust="spacingAndGlyphs">40<tspan dy="8">*</tspan><tspan dy="-8">30</tspan><tspan dy="8">*</tspan><tspan dy="-8">256</tspan></text>
<text class="l" transform="translate(2652,1532) rotate(-45)" textLength="159" lengthAdjust="spacingAndGlyphs">40<tspan dy="8">*</tspan><tspan dy="-8">30</tspan><tspan dy="8">*</tspan><tspan dy="-8">256</tspan></text>
<text class="l" transform="translate(2811,1467) rotate(-44)" textLength="160" lengthAdjust="spacingAndGlyphs">80<tspan dy="8">*</tspan><tspan dy="-8">60</tspan><tspan dy="8">*</tspan><tspan dy="-8">512</tspan></text>
<text class="l" transform="translate(3044,1465) rotate(-46.5)" textLength="158" lengthAdjust="spacingAndGlyphs">80<tspan dy="8">*</tspan><tspan dy="-8">60</tspan><tspan dy="8">*</tspan><tspan dy="-8">128</tspan></text>
<text class="l" transform="translate(3160,1437) rotate(-44.5)" textLength="193" lengthAdjust="spacingAndGlyphs">160<tspan dy="8">*</tspan><tspan dy="-8">120</tspan><tspan dy="8">*</tspan><tspan dy="-8">256</tspan></text>
<text class="l" transform="translate(3269,1463) rotate(-47)" textLength="193" lengthAdjust="spacingAndGlyphs">160<tspan dy="8">*</tspan><tspan dy="-8">120</tspan><tspan dy="8">*</tspan><tspan dy="-8">128</tspan></text>
<text class="l" transform="translate(3416,1328) rotate(-46)" textLength="195" lengthAdjust="spacingAndGlyphs">320<tspan dy="8">*</tspan><tspan dy="-8">240</tspan><tspan dy="8">*</tspan><tspan dy="-8">128</tspan></text>
<text class="l" transform="translate(3512,1395) rotate(-46)" textLength="159" lengthAdjust="spacingAndGlyphs">320<tspan dy="8">*</tspan><tspan dy="-8">240</tspan><tspan dy="8">*</tspan><tspan dy="-8">3</tspan></text>
</g>
</svg>
</body></html>
